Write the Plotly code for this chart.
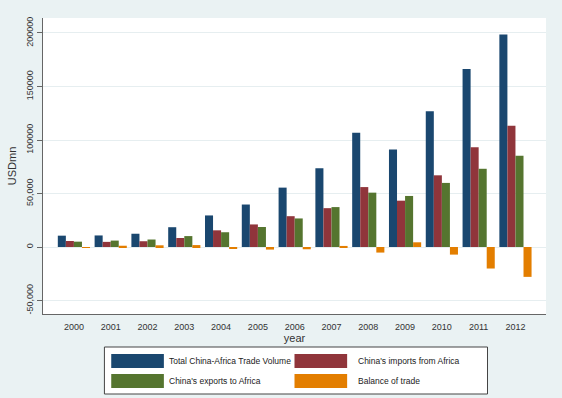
import plotly.graph_objects as go

years = [2000, 2001, 2002, 2003, 2004, 2005, 2006, 2007, 2008, 2009, 2010, 2011, 2012]
series_names = ["Total China-Africa Trade Volume", "China's imports from Africa",
                "China's exports to Africa", "Balance of trade"]
total = [10600, 10800, 12400, 18500, 29500, 39700, 55500, 73600, 106800, 91100, 126900, 166300, 198500]
imports = [5600, 4800, 5400, 8400, 15600, 21100, 28800, 36300, 56000, 43300, 67000, 93200, 113200]
exports = [5000, 6000, 7000, 10200, 13800, 18700, 26700, 37300, 50800, 47700, 59900, 73100, 85300]
balance = [-600, 1200, 1600, 1800, -1800, -2400, -2100, 1000, -5200, 4400, -7100, -20100, -27900]
colors = ["#1a476f", "#90353b", "#55752f", "#e37e00"]
ytick_vals = [-50000, 0, 50000, 100000, 150000, 200000]
ytick_text = ["-50,000", "0", "50,000", "100000", "150000", "200000"]

W, H = 562, 398
L, R, T, B = 30, 16, 18, 84
pw, ph = W - L - R, H - T - B

def px(x):
    return (x - L) / pw

def py(y):
    return (H - B - y) / ph

fig = go.Figure()
for name, vals, c in zip(series_names, [total, imports, exports, balance], colors):
    fig.add_trace(go.Bar(x=years, y=vals, name=name, marker=dict(color=c, line=dict(width=0)),
                         showlegend=False))

fig.update_layout(
    width=W, height=H,
    margin=dict(l=L, r=R, t=T, b=B),
    paper_bgcolor="#eaf2f3",
    plot_bgcolor="#ffffff",
    barmode="group",
    bargap=0.125,
    bargroupgap=0,
    font=dict(family="Liberation Sans, Arial, sans-serif", color="#222"),
    xaxis=dict(
        range=[1999.16, 2012.83],
        tickvals=years, ticktext=[str(y) for y in years],
        tickfont=dict(size=9, color="#333"),
        showgrid=False, zeroline=False,
        showline=True, linecolor="#666", linewidth=1,
        ticks="", ticklen=0, ticklabelstandoff=4,
        title=dict(text="year", font=dict(size=11, color="#333"), standoff=1),
    ),
    yaxis=dict(
        range=[-62600, 214000],
        tickvals=ytick_vals, ticktext=ytick_text, tickangle=-90,
        tickfont=dict(size=9, color="#333"),
        showgrid=True, gridcolor="#e6eef0", gridwidth=1,
        zeroline=False,
        showline=True, linecolor="#666", linewidth=1,
        ticks="outside", ticklen=5, tickcolor="#666",
        title=dict(text="USDmn", font=dict(size=11, color="#333"), standoff=6),
    ),
)

# custom legend
shapes = [dict(type="rect", xref="paper", yref="paper",
               x0=px(93), x1=px(486), y0=py(394), y1=py(347),
               fillcolor="#ffffff", line=dict(color="#444", width=1), layer="above")]
swatch_pos = [(100, 354), (288, 354), (100, 374), (288, 374)]
text_x = [157, 351, 157, 351]
annotations = []
for (sx, sy), tx, name, c in zip(swatch_pos, text_x, series_names, colors):
    shapes.append(dict(type="rect", xref="paper", yref="paper",
                       x0=px(sx), x1=px(sx + 54), y0=py(sy + 14), y1=py(sy),
                       fillcolor=c, line=dict(width=0), layer="above"))
    annotations.append(dict(xref="paper", yref="paper", x=px(tx), y=py(sy + 7),
                            text=name, showarrow=False, xanchor="left", yanchor="middle",
                            font=dict(size=8.5, color="#222")))
fig.update_layout(shapes=shapes, annotations=annotations)

fig.write_html("out.html")
